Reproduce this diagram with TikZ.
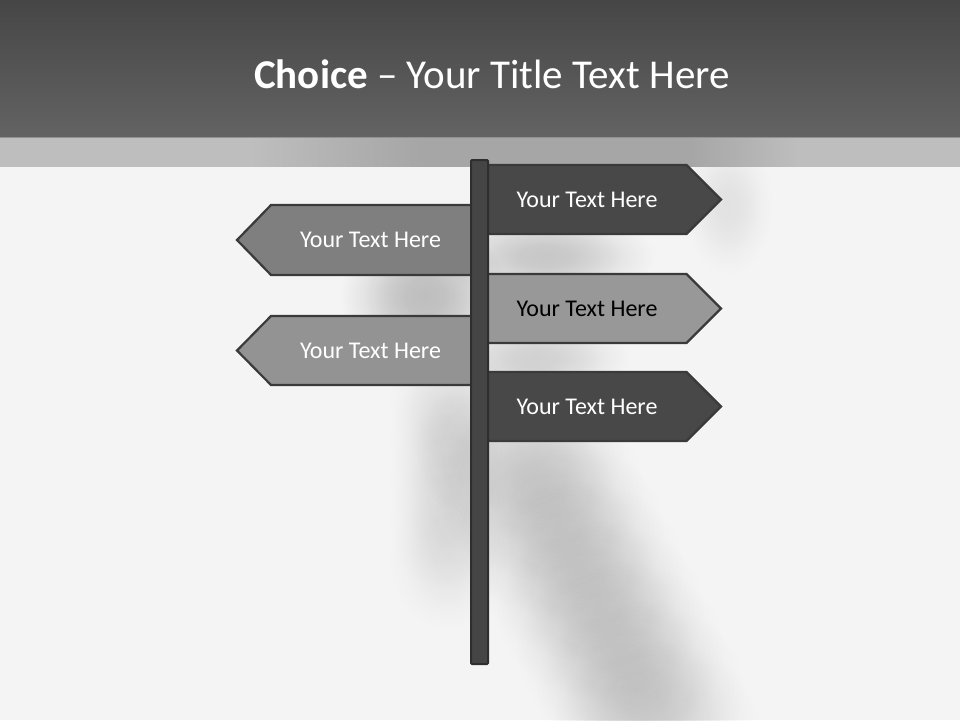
\documentclass[tikz,border=0pt]{standalone}
\usepackage{fontspec}
\setmainfont{Carlito}
\usetikzlibrary{fadings}
\definecolor{bgc}{HTML}{F4F4F4}
\definecolor{hdtop}{HTML}{464646}
\definecolor{hdbot}{HTML}{636363}
\definecolor{bandl}{HTML}{BEBEBE}
\definecolor{bandd}{HTML}{A6A6A6}
\definecolor{darkfill}{HTML}{484848}
\definecolor{midfill}{HTML}{7F7F7F}
\definecolor{lightfill}{HTML}{989898}
\definecolor{edge}{HTML}{3A3A3A}
\definecolor{postfill}{HTML}{454545}
\pgfdeclareradialshading{softshade}{\pgfpointorigin}{color(0bp)=(pgftransparent!0); color(6bp)=(pgftransparent!8); color(12bp)=(pgftransparent!35); color(18bp)=(pgftransparent!72); color(25bp)=(pgftransparent!100); color(50bp)=(pgftransparent!100)}
\pgfdeclarefading{softblob}{\pgfuseshading{softshade}}
\tikzset{
  sign/.style={draw=edge, line width=2.2pt, line join=miter},
  signtext/.style={font=\fontsize{24}{28}\selectfont, anchor=center, inner sep=0pt},
  shadowblob/.style={fill=black, path fading=softblob}
}
\begin{document}
\begin{tikzpicture}[x=1pt,y=-1pt]
\useasboundingbox (0,0) rectangle (960,720);
% background
\fill[bgc] (0,0) rectangle (960,720);
% soft shadows
\fill[shadowblob, opacity=0.22] (425,296) ellipse [x radius=85, y radius=75];
\fill[shadowblob, opacity=0.18] (545,256) ellipse [x radius=110, y radius=45];
\fill[shadowblob, opacity=0.14] (535,358) ellipse [x radius=95, y radius=40];
\fill[shadowblob, opacity=0.07] (728,205) ellipse [x radius=45, y radius=70];
\foreach \yy in {400,440,...,560}
  \fill[shadowblob, opacity=0.06] (448,\yy) ellipse [x radius=60, y radius=70];
\foreach \xx/\yy in {520/450,540/490,560/530,580/570,600/610,620/650,640/690,655/730}
  \fill[shadowblob, opacity=0.09] (\xx,\yy) ellipse [x radius=105, y radius=90];
% header
\shade[top color=hdtop, bottom color=hdbot] (0,0) rectangle (960,137);
\begin{scope}
  \clip (0,137) rectangle (960,166);
  \fill[bandl] (0,130) rectangle (960,170);
  \shade[left color=bandl, right color=bandd] (250,130) rectangle (420,170);
  \fill[bandd] (419,130) rectangle (691,170);
  \shade[left color=bandd, right color=bandl] (690,130) rectangle (800,170);
\end{scope}
\draw[color=hdbot!70!white, line width=0.8pt] (0,137) -- (960,137);
\node[text=white, font=\fontsize{41}{48}\selectfont, anchor=base] (title) at (492,88)
  {\textbf{Choice} – Your Title Text Here};
% signs (right-pointing)
\draw[sign, fill=darkfill] (478,165) -- (686.5,165) -- (721,199.5) -- (686.5,234) -- (478,234) -- cycle;
\node[signtext, text=white] (r1) at (587,199.5) {Your Text Here};
\draw[sign, fill=lightfill] (478,274) -- (686.5,274) -- (721,308.5) -- (686.5,343) -- (478,343) -- cycle;
\node[signtext, text=black] (r2) at (587,308.5) {Your Text Here};
\draw[sign, fill=darkfill] (478,372) -- (686.5,372) -- (721,406.5) -- (686.5,441) -- (478,441) -- cycle;
\node[signtext, text=white] (r3) at (587,406.5) {Your Text Here};
% signs (left-pointing)
\draw[sign, fill=midfill] (480,205) -- (271,205) -- (237,240) -- (271,275) -- (480,275) -- cycle;
\node[signtext, text=white] (l1) at (370.5,240) {Your Text Here};
\draw[sign, fill=lightfill!97!black] (480,316) -- (271,316) -- (237,350.5) -- (271,385) -- (480,385) -- cycle;
\node[signtext, text=white] (l2) at (370.5,350.5) {Your Text Here};
% post
\draw[draw=edge!80!black, fill=postfill, line width=2pt, rounded corners=1pt] (471,160) rectangle (488,664);
\end{tikzpicture}
\end{document}
